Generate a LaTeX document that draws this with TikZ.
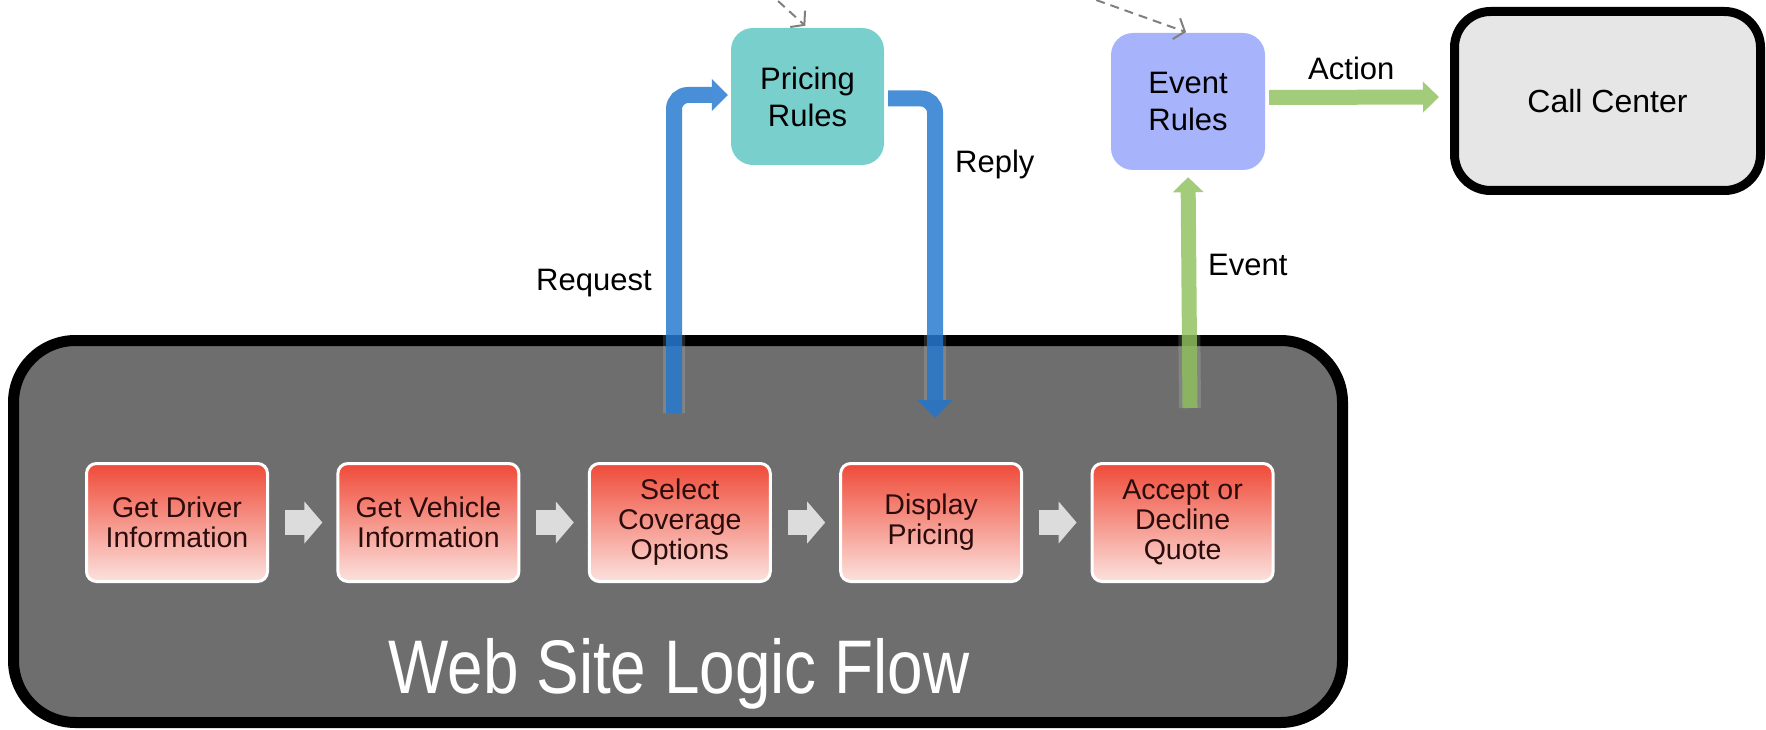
\documentclass[tikz,border=0pt]{standalone}
\usepackage{fontspec}
\setmainfont{Liberation Sans}
\usetikzlibrary{arrows.meta,calc}
\definecolor{teal1}{HTML}{78CFCC}
\definecolor{lav1}{HTML}{A7B3FA}
\definecolor{ccgrey}{HTML}{E6E6E6}
\definecolor{webgrey}{HTML}{6E6E6E}
\definecolor{redtop}{HTML}{EF4A38}
\definecolor{redbot}{HTML}{FCE2DE}
\definecolor{redtxt}{HTML}{2A0C0C}
\definecolor{blueA}{RGB}{31,118,208}
\definecolor{greenA}{RGB}{141,192,91}
\definecolor{stepgrey}{HTML}{DCDCDC}
\definecolor{dashgrey}{HTML}{808080}
\begin{document}
\begin{tikzpicture}[x=1pt,y=-1pt,
  lbl/.style={font=\fontsize{31}{37}\selectfont, inner sep=0pt, anchor=base west},
  rulebox/.style={rounded corners=22pt, inner sep=0pt, align=center,
    font=\fontsize{31}{37}\selectfont, minimum width=153pt, minimum height=137pt},
  stepbox/.style={draw=white, line width=3pt, rounded corners=10pt,
    top color=redtop, bottom color=redbot, minimum width=181pt, minimum height=118pt,
    inner sep=0pt, align=center, text=redtxt, font=\fontsize{28.5}{30}\selectfont},
  steparrow/.style={draw=stepgrey, line width=25pt,
    -{Triangle[length=18pt,width=41pt]}, shorten <=16pt, shorten >=14pt},
  bluearrow/.style={draw=blueA, line width=16pt, rounded corners=14pt},
  greenarrow/.style={draw=greenA, line width=15pt},
  glow/.style={draw=white, line width=22pt, opacity=0.15},
  dasharrow/.style={draw=dashgrey, line width=2pt, dash pattern=on 9pt off 6pt,
    -{Straight Barb[length=9pt,width=22pt]}}
  ]
\useasboundingbox (0,0) rectangle (1766,730);
\clip (0,0) rectangle (1766,730);

% big container
\node[draw=black, line width=11pt, fill=webgrey, rounded corners=62pt,
  minimum width=1329pt, minimum height=382pt, inner sep=0pt] (web) at (678,531.5) {};
\node[text=white, anchor=base, inner sep=0pt, font=\fontsize{76}{80}\selectfont]
  (title) at (679,693) {\scalebox{0.84}[1]{Web Site Logic Flow}};

% steps
\node[stepbox] (b1) at (177,522.5) {Get Driver\\Information};
\node[stepbox] (b2) at (428.4,522.5) {Get Vehicle\\Information};
\node[stepbox] (b3) at (679.8,522.5) {Select\\Coverage\\Options};
\node[stepbox] (b4) at (931.2,522.5) {Display\\Pricing};
\node[stepbox] (b5) at (1182.6,522.5) {Accept or\\Decline\\Quote};
\draw[steparrow] (b1) -- (b2);
\draw[steparrow] (b2) -- (b3);
\draw[steparrow] (b3) -- (b4);
\draw[steparrow] (b4) -- (b5);

% rule nodes
\node[rulebox, fill=teal1] (pr) at (807.5,96.5) {Pricing\\Rules};
\node[rulebox, fill=lav1, minimum width=154pt] (ev) at (1188,101.5) {Event\\Rules};
\node[draw=black, line width=9pt, fill=ccgrey, rounded corners=36pt,
  minimum width=306pt, minimum height=179pt, inner sep=0pt,
  font=\fontsize{32}{38}\selectfont] (cc) at (1607.5,101) {Call Center};

% free ends
\coordinate (reqS) at (674,413);
\coordinate (repE) at (935,418);
\coordinate (evS) at (1190,408);
\coordinate (d1) at (767,-9);
\coordinate (d2) at (1068,-10);

% glows
\draw[glow, rounded corners=14pt] (reqS) |- ([yshift=1.5pt,xshift=-18pt]pr.west);
\draw[glow, rounded corners=14pt] ([yshift=-2pt,xshift=4pt]pr.east) -| ([yshift=18pt]repE);
\draw[glow] (evS) -- ([yshift=-22pt]ev.south);

% blue arrows
\begin{scope}[transparency group, opacity=0.81]
\draw[bluearrow, -{Triangle[length=16pt,width=31pt]}, shorten >=3pt]
  (reqS) |- ([yshift=1.5pt]pr.west);
\end{scope}
\begin{scope}[transparency group, opacity=0.81]
\draw[bluearrow, -{Triangle[length=18pt,width=34pt]}, shorten <=4pt]
  ([yshift=-2pt]pr.east) -| (repE);
\end{scope}
% green arrows
\begin{scope}[transparency group, opacity=0.81]
\draw[greenarrow, -{Triangle[length=15pt,width=30pt]}, shorten >=7pt]
  (evS) -- (ev.south);
\end{scope}
\draw[draw=greenA!81!white, line width=15pt, -{Triangle[length=16pt,width=30pt]},
  shorten <=4pt, shorten >=11pt]
  ([yshift=4pt]ev.east) -- ([yshift=4pt]cc.west -| cc.west);

% dashed arrows from outside
\draw[dasharrow, shorten >=3pt] (d1) -- (pr.north);
\draw[dasharrow, shorten >=2pt] (d2) -- (ev.north);

% labels
\node[lbl] (lreq) at (536,290) {Request};
\node[lbl] (lrep) at (955,173) {Reply};
\node[lbl] (levt) at (1208,275) {Event};
\node[lbl] (lact) at (1308,80) {Action};
\end{tikzpicture}
\end{document}
